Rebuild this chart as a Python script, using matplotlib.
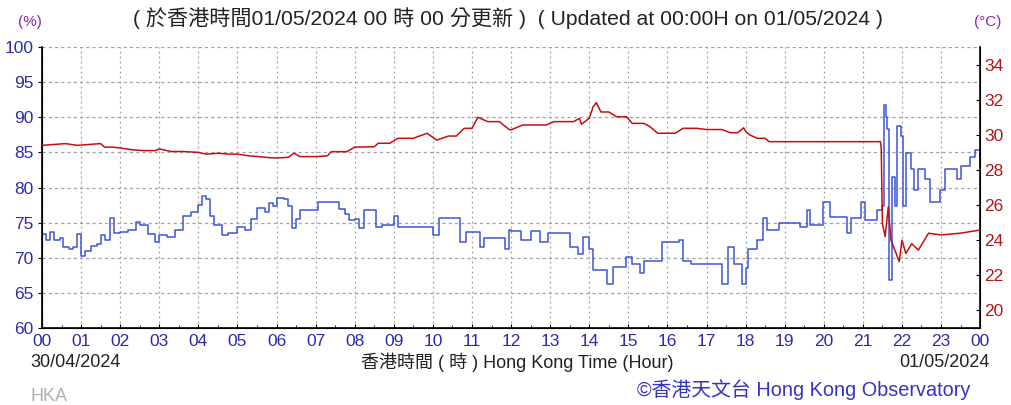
import matplotlib
matplotlib.use("Agg")
import matplotlib.pyplot as plt
from matplotlib.ticker import MultipleLocator

plt.rcParams['font.family'] = ['Liberation Sans', 'Noto Sans CJK TC', 'DejaVu Sans']

# relative humidity (%), hours since 00:00 on 30/04/2024
rh_hours = [0.0, 0.1, 0.2, 0.3, 0.45, 0.55, 0.7, 0.8, 0.9, 1.0, 1.1, 1.25, 1.4, 1.5,
            1.6, 1.75, 1.85, 2.0, 2.2, 2.4, 2.5, 2.7, 2.9, 3.0, 3.2, 3.4, 3.6, 3.8,
            4.0, 4.1, 4.2, 4.3, 4.4, 4.6, 4.75, 5.0, 5.2, 5.35, 5.5, 5.7, 5.8, 5.9,
            6.0, 6.2, 6.3, 6.4, 6.5, 6.6, 6.9, 7.05, 7.5, 7.6, 7.75, 7.85, 8.0, 8.1,
            8.25, 8.45, 8.55, 8.7, 8.95, 9.0, 9.1, 9.5, 9.9, 10.0, 10.15, 10.6, 10.7,
            10.85, 11.0, 11.2, 11.3, 11.7, 11.85, 11.95, 12.0, 12.25, 12.5, 12.75,
            12.95, 13.3, 13.5, 13.7, 13.85, 14.0, 14.1, 14.3, 14.45, 14.6, 14.85,
            14.95, 15.1, 15.3, 15.4, 15.75, 15.85, 16.05, 16.3, 16.4, 16.6, 17.0,
            17.2, 17.4, 17.55, 17.7, 17.9, 18.0, 18.05, 18.15, 18.3, 18.45, 18.55,
            18.75, 18.85, 19.25, 19.4, 19.58, 19.65, 19.9, 19.98, 20.15, 20.5, 20.6,
            20.7, 20.9, 20.95, 21.05, 21.25, 21.35, 21.48, 21.55, 21.6, 21.63, 21.67,
            21.75, 21.83, 21.88, 21.97, 22.03, 22.1, 22.22, 22.3, 22.4, 22.5, 22.6,
            22.72, 22.9, 22.98, 23.1, 23.3, 23.4, 23.5, 23.65, 23.75, 23.87, 23.95, 24.0]
rh_vals = [73.4, 72.5, 73.6, 72.6, 72.8, 71.5, 71.2, 71.6, 73.4, 70.2, 71.0, 71.7, 72.0, 73.2,
           72.6, 75.6, 73.5, 73.7, 74.0, 75.1, 74.6, 73.4, 72.2, 73.2, 73.0, 74.0, 75.9, 76.5,
           77.5, 78.8, 78.3, 76.0, 74.7, 73.2, 73.5, 74.4, 74.0, 75.5, 77.1, 76.5, 77.8, 77.3,
           78.5, 78.3, 77.3, 74.2, 75.5, 76.8, 76.8, 78.0, 78.0, 77.0, 76.3, 75.4, 75.5, 74.2,
           76.8, 76.8, 74.4, 74.7, 74.7, 75.9, 74.4, 74.4, 74.4, 73.2, 75.6, 75.6, 72.3,
           73.7, 73.7, 71.6, 72.8, 72.8, 71.3, 74.0, 73.8, 72.6, 73.8, 72.3,
           73.5, 73.5, 71.6, 70.6, 73.0, 71.3, 68.2, 68.2, 66.2, 68.7, 68.7,
           70.1, 69.1, 67.9, 69.6, 69.6, 72.3, 72.3, 72.6, 69.6, 69.1, 69.1,
           69.1, 66.2, 71.6, 69.1, 66.2, 68.5, 71.2, 71.2, 72.6, 75.6, 73.9,
           73.9, 74.9, 74.9, 74.4, 76.8, 74.6, 74.6, 78.0, 75.8, 75.8, 73.5,
           75.6, 75.6, 78.0, 75.4, 75.4, 76.8, 77.3, 91.8, 90.0, 88.3, 66.8,
           81.5, 77.3, 88.7, 87.3, 77.3, 84.9, 82.6, 79.7, 82.6, 82.6, 81.2,
           78.0, 78.0, 79.7, 82.6, 82.6, 81.2, 83.0, 83.0, 84.4, 85.4, 85.4, 83.0]

# air temperature (degC)
temp_hours = [0.0, 0.3, 0.6, 0.9, 1.2, 1.5, 1.6, 1.8, 2.0, 2.3, 2.6, 2.9, 3.0, 3.3, 3.6,
              4.0, 4.2, 4.5, 4.8, 5.0, 5.3, 5.6, 5.8, 6.0, 6.3, 6.45, 6.6, 7.0, 7.3, 7.4,
              7.8, 8.0, 8.5, 8.6, 8.9, 9.1, 9.5, 9.85, 10.1, 10.4, 10.6, 10.8, 11.0, 11.15,
              11.4, 11.7, 11.95, 12.0, 12.3, 12.9, 13.1, 13.6, 13.75, 13.8, 14.0, 14.1,
              14.18, 14.3, 14.5, 14.7, 14.95, 15.1, 15.4, 15.55, 15.75, 16.2, 16.4, 16.75,
              17.0, 17.4, 17.6, 17.8, 17.95, 18.0, 18.1, 18.3, 18.5, 18.6, 19.0, 19.5,
              20.0, 20.5, 21.0, 21.45, 21.47, 21.5, 21.57, 21.65, 21.72, 21.85, 21.93,
              22.0, 22.1, 22.25, 22.42, 22.68, 23.0, 23.5, 24.0]
temp_vals = [29.4, 29.45, 29.5, 29.4, 29.45, 29.5, 29.3, 29.3, 29.25, 29.15, 29.1, 29.1, 29.2, 29.05, 29.05,
             29.0, 28.9, 28.95, 28.9, 28.9, 28.8, 28.75, 28.7, 28.68, 28.72, 28.95, 28.76, 28.76, 28.8, 29.04,
             29.04, 29.3, 29.32, 29.52, 29.52, 29.8, 29.8, 30.09, 29.7, 29.93, 29.93, 30.37, 30.37, 31.0,
             30.75, 30.75, 30.3, 30.28, 30.56, 30.56, 30.75, 30.75, 30.94, 30.6, 30.94, 31.6,
             31.83, 31.3, 31.3, 31.03, 31.03, 30.65, 30.65, 30.47, 30.09, 30.09, 30.37, 30.37,
             30.3, 30.3, 30.12, 30.12, 30.4, 30.2, 30.0, 29.8, 29.8, 29.61, 29.61, 29.61,
             29.61, 29.61, 29.61, 29.61, 29.23, 24.96, 24.2, 25.9, 24.0, 23.25, 22.78,
             24.0, 23.25, 23.8, 23.44, 24.4, 24.3, 24.4, 24.58]

hour_ticks = list(range(25))
hour_labels = ['%02d' % (h % 24) for h in hour_ticks]
rh_ticks = [60, 65, 70, 75, 80, 85, 90, 95, 100]
temp_ticks = [20, 22, 24, 26, 28, 30, 32, 34]

BLUE = '#3a56d6'
RED = '#c40f0f'
TICK_BLUE = '#2c2ca8'
TICK_RED = '#b01818'
PURPLE = '#8a2aa8'
GRID = '#a0a0a0'

fig = plt.figure(figsize=(10.12, 4.05), dpi=100)
fig.patch.set_facecolor('white')
ax = fig.add_axes([0.0415, 0.19, 0.927, 0.694])
ax2 = ax.twinx()

ax.plot(rh_hours, rh_vals, color=BLUE, lw=1.1, drawstyle='steps-post', zorder=3)
ax2.plot(temp_hours, temp_vals, color=RED, lw=1.1, zorder=3)

ax.set_xlim(0, 24)
ax.set_ylim(60, 100)
ax2.set_ylim(19, 35)

ax.set_xticks(hour_ticks)
ax.set_xticklabels(hour_labels)
ax.xaxis.set_minor_locator(MultipleLocator(0.5))
ax.set_yticks(rh_ticks)
ax2.set_yticks(temp_ticks)

ax.grid(True, which='major', axis='x', linestyle=(0, (1.5, 2.5)), color=GRID, lw=0.9)
ax.grid(True, which='major', axis='y', linestyle=(0, (2.5, 2.5)), color=GRID, lw=0.9)

ax.tick_params(axis='x', which='major', direction='in', length=3, pad=4,
               labelsize=12.5, labelcolor=TICK_BLUE)
ax.tick_params(axis='x', which='minor', direction='in', length=2)
ax.tick_params(axis='y', direction='out', length=3, pad=3, labelsize=12.5,
               labelcolor=TICK_BLUE)
ax2.tick_params(axis='y', direction='in', length=3, pad=3, labelsize=12.5,
                labelcolor=TICK_RED)

ax.spines['top'].set_visible(False)
ax2.spines['top'].set_visible(False)
for s in ('left', 'bottom'):
    ax.spines[s].set_linewidth(1.2)
ax2.spines['right'].set_linewidth(1.2)

fig.text(0.502, 0.955, '( 於香港時間01/05/2024 00 時 00 分更新 )  ( Updated at 00:00H on 01/05/2024 )',
         ha='center', va='center', fontsize=15.2, color='#222222')
fig.text(0.03, 0.945, '(%)', ha='center', va='center', fontsize=11, color=PURPLE)
fig.text(0.976, 0.945, '(°C)', ha='center', va='center', fontsize=11, color=PURPLE)

fig.text(0.03, 0.105, '30/04/2024', ha='left', va='center', fontsize=13, color='#222222')
fig.text(0.511, 0.105, '香港時間 ( 時 ) Hong Kong Time (Hour)', ha='center', va='center',
         fontsize=13, color='#222222')
fig.text(0.978, 0.105, '01/05/2024', ha='right', va='center', fontsize=13, color='#222222')
fig.text(0.03, 0.02, 'HKA', ha='left', va='center', fontsize=13, color='#b0b0b0')
fig.text(0.959, 0.037, '©香港天文台 Hong Kong Observatory', ha='right', va='center',
         fontsize=14.3, color='#3434c4')

fig.savefig('out.png', dpi=100)
